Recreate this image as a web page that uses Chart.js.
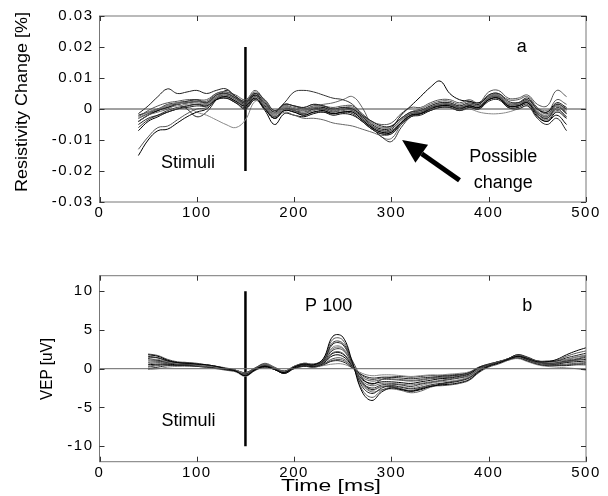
<!DOCTYPE html>
<html>
<head>
<meta charset="utf-8">
<script src="https://cdn.jsdelivr.net/npm/chart.js@4.4.1/dist/chart.umd.min.js"></script>
<style>
body { margin: 0; background: #fff; }
#wrap { position: relative; width: 608px; height: 496px; }
canvas { position: absolute; left: 0; }
#top { top: 0; }
#bot { top: 240px; }
</style>
</head>
<body>
<div id="wrap">
<canvas id="top" width="608" height="240"></canvas>
<canvas id="bot" width="608" height="256"></canvas>
</div>
<script>
// ---- panel a : resistivity change, values in 0.001 % ----
const timeA = [40,50,60,70,80,90,100,110,120,130,140,150,160,170,180,190,200,210,220,230,240,250,260,270,280,290,300,310,320,330,340,350,360,370,380,390,400,410,420,430,440,450,460,470,480];
const tracesA = [
	[-15,-10,-7,-6.5,-4.5,-2.5,-1,0,3,4,2.5,1,3.5,0,-3,-0.5,-1,-2,-1,-0.5,-1.5,-1,-1,-3.5,-6,-7.5,-7.5,-4.5,-2,-1.5,0,1,1,0,1,0.5,3,3.5,1,1,2,-2,-4,-1,-3],
	[-13,-9,-6,-5.5,-3.5,-1.5,0,0.5,3.5,4.5,3,1.5,4,0.5,-2.5,0,-0.5,-1.5,-0.5,0,-1,-0.5,-0.5,-3,-5.5,-7,-7,-4,-1.5,-1,0.5,1.5,1.5,0.5,1.5,1,3.5,4,1.5,1.5,2.5,-1.5,-3.5,-0.5,-2.5],
	[-1.5,1,4,6.5,5,5.5,6,5,6,6.5,4,2.5,5,2,-1,1.5,1,0.5,1.5,1,0,0.5,0,-2,-4,-5.5,-5.5,-3,-1,-0.5,1,2,2,1,2,1.5,4.5,5,2.5,2,3,0,-1.5,1.5,0],
	[-3,-1,0,1,2,1,-1,-2,-3.5,-5,-6,-3.5,2.5,1.5,-1.5,1,0,-0.5,0.5,1,-0.5,0,0.5,-2,-4.5,-6,-6,-3.5,-1,-0.5,1,2,2,1,2,1,4,4.5,2,2,3,-0.5,-2,1,-0.5],
	[-2,-1,0,1.5,2,2.5,3,2,4.5,5,3.5,2,5,3,-0.5,2,5.5,6,5.5,4.5,3.5,3,1.5,-2,-6,-9,-10.5,-6,-2.5,-1.5,0.5,1,1.5,0.5,1,0.5,3,3.5,1,1,2,-1.5,-3,0.5,-1.5],
	[-4,-2,-1,0,1.5,2,2.5,2,4,5,3.5,2,5,1.5,-1.5,1,0.5,0,1,1.5,2,3,4,0.5,-5.5,-9,-9.5,-5,-2,-1,0.5,1.5,1.5,0.5,1.5,1,3.5,4,1.5,1.5,2.5,-1,-2.5,1,-1],
	[-4,-2,-0.5,0.5,1.5,2,2.5,2,4.5,5,3.5,1.5,4.5,1.5,-1.5,1,0,-0.5,0.5,0.5,-0.5,0,0,-2.5,-5,-6.5,-6,-2,1,4,7,9,5,3,2.5,2,4,4.5,2,2,3.5,0,-1,2,0.5],
	[-3,-1.5,0,1,2,2.5,3,3,5,5.5,4,2.5,5.5,2.5,-0.5,1.5,1,0.5,1.5,1,0.5,1,1,-1.5,-4,-5,-4.5,-1.5,0.5,0.5,2,3,3,2,3,2,5.5,6,3.5,3.5,4.5,1.5,1,6,4],
	[-5,-3,-2,-1,0,0.5,1,1,3,3.5,2,0.5,3,0,-3,-0.5,-1,-2,-1,-1,-1.5,-1,-1.5,-4,-6.5,-8,-8,-5,-2.5,-2,-0.5,0.5,0.5,-0.5,0.5,0,2.5,3,0.5,0,1,-3,-5,-3,-7],
	[-2,-1,0,0.5,1,1.5,2,1.5,3.5,4,2.5,1,3,0.5,-2,0.5,0,-0.5,0.5,0.5,-0.5,0,-0.5,-2.5,-4.5,-6,-5.5,-3,-1,-0.5,0.5,1,0.5,-0.5,0,-1,-1.5,-1.5,-1,0,1,0,-0.5,1,0],
	[-6,-3.5,-2,-0.5,0.5,1,1.5,1.5,3.5,4,2.5,1,4,0.5,-2.5,0,-0.5,-1,0,-0.5,-1.5,-1,-1,-3.5,-6,-7.5,-7,-4.5,-2,-1.5,0,1,1,0,1,0.5,4,4.5,1,1,2.5,-1.5,-3,0,-2.5],
	[-3,-1.5,-0.5,0.5,1.5,2,2,1.5,4,4.5,3,1,3.5,0,-3,-1,-2,-3,-3,-3.5,-4.5,-5,-5.5,-6.5,-7.5,-8.5,-8,-5,-2.5,-1.5,0,1,1,0.5,1.5,1,3.5,4,1.5,1.5,2.5,-1,-2,1.5,0],
	[-7,-4,-2.5,-1,0,1,1.5,1,3,3.5,2,0,3,-0.5,-5,-1.5,-2,-2.5,-1.5,-1,-2,-1.5,-2,-4,-6.5,-8,-7.5,-4.5,-2,-1.5,-0.5,0.5,0.5,-0.5,0.5,0,3,3.5,0.5,0.5,1.5,-2.5,-4,-2,-5],
	[-2.5,-0.5,1,2,2.5,3,3,2.5,5,5.5,4.5,3,6,2.5,-1,1.5,1,0,1,1,0,0.5,0.5,-2,-4.5,-6,-5.5,-3,-1,0,1.5,2.5,2.5,1.5,2.5,1.5,4.5,5,3,3,4,0.5,-1,3,1.5],
	[-4,-2,-0.5,1,1.5,0,-2.5,-1,3,6,4,2,4.5,1,-2,0.5,-0.5,-1.5,0,0,-1,0,-0.5,-3,-5.5,-7,-6.5,-3.5,-1.5,-1,0.5,1.5,1.5,0.5,1,0.5,3.5,4,1,1,2,-1,-2.5,1,-1.5]
];

// ---- panel b : VEP, values in uV ----
const timeB = [50,60,70,80,90,100,110,120,130,140,150,160,170,180,190,200,210,220,230,240,250,260,270,280,290,300,310,320,330,340,350,360,370,380,390,400,410,420,430,440,450,460,470,480,490,500];
const tracesB = [
	[1.8,1.6,1.1,0.8,0.7,0.6,0.5,0.3,0,-0.3,-0.9,-0.1,0.3,-0.1,-0.5,0.2,0.6,0.5,1.3,4.2,4.1,0.8,-3.0,-4.1,-3.0,-2.5,-2.7,-2.9,-2.6,-2.3,-2.1,-2,-1.8,-1.4,-0.4,0.3,0.7,1.2,1.6,1.3,0.9,0.9,1.2,1.8,2.3,2.7],
	[1.9,1.7,1.2,0.9,0.8,0.7,0.5,0.3,0.1,-0.2,-0.8,0,0.5,0.1,-0.4,0.3,0.7,0.6,1.2,3.8,3.7,0.7,-2.7,-3.7,-2.8,-2.4,-2.6,-2.8,-2.5,-2.2,-2.2,-2.1,-1.9,-1.5,-0.5,0.2,0.6,1.1,1.7,1.4,1,1,1.1,1.6,2,2.3],
	[1.5,1.4,1,0.8,0.7,0.6,0.5,0.3,0,-0.3,-0.7,0,0.4,0,-0.5,0.2,0.5,0.5,1.0,3.2,3.1,0.6,-2.3,-3.2,-2.5,-2.2,-2.4,-2.6,-2.4,-2.1,-1.9,-1.8,-1.6,-1.2,-0.3,0.4,0.8,1.3,1.8,1.4,1,0.9,1,1.4,1.7,2],
	[1.2,1.2,0.9,0.7,0.7,0.5,0.4,0.2,0,-0.2,-0.6,0,0.5,0.1,-0.4,0.3,0.6,0.5,1.0,2.8,2.7,0.5,-2.0,-2.8,-2.3,-2.2,-2.3,-2.5,-2.2,-1.9,-1.7,-1.6,-1.4,-1,-0.2,0.4,0.8,1.3,1.7,1.3,0.9,0.8,0.9,1.2,1.5,1.8],
	[1,1,0.8,0.6,0.6,0.5,0.4,0.2,0,-0.2,-0.5,0.1,0.6,0.1,-0.3,0.3,0.6,0.4,0.9,2.4,2.4,0.5,-1.8,-2.5,-2.1,-2,-2.1,-2.3,-2,-1.8,-1.6,-1.4,-1.2,-0.9,-0.1,0.5,0.8,1.2,1.6,1.3,0.9,0.7,0.8,1,1.2,1.5],
	[0.8,0.9,0.8,0.6,0.6,0.4,0.3,0.2,0,-0.3,-0.7,0,0.4,0,-0.5,0.2,0.5,0.4,0.8,2.1,2.0,0.4,-1.6,-2.2,-1.9,-1.9,-2,-2.1,-1.9,-1.7,-1.5,-1.3,-1.1,-0.8,0,0.5,0.9,1.3,1.7,1.3,0.8,0.6,0.7,0.9,1.1,1.3],
	[0.5,0.6,0.6,0.5,0.5,0.4,0.3,0.1,-0.1,-0.3,-0.8,-0.1,0.3,-0.1,-0.6,0.1,0.4,0.3,0.7,1.7,1.6,0.3,-1.4,-1.9,-1.7,-1.7,-1.8,-1.9,-1.7,-1.5,-1.3,-1.2,-1,-0.7,0.1,0.5,0.9,1.2,1.6,1.2,0.8,0.6,0.6,0.8,0.9,1],
	[0.2,0.4,0.5,0.5,0.5,0.4,0.3,0.1,-0.1,-0.3,-0.8,-0.1,0.3,0,-0.5,0.1,0.4,0.3,0.6,1.3,1.3,0.2,-1.1,-1.6,-1.4,-1.4,-1.5,-1.6,-1.5,-1.3,-1.2,-1.1,-0.9,-0.6,0.1,0.5,0.9,1.2,1.5,1.1,0.7,0.5,0.5,0.6,0.7,0.8],
	[0,0.2,0.4,0.4,0.4,0.3,0.2,0.1,-0.1,-0.3,-0.9,-0.2,0.2,-0.1,-0.6,0,0.3,0.2,0.5,1.0,0.9,0.1,-0.8,-1.2,-1.1,-1.1,-1.2,-1.3,-1.2,-1.1,-1,-0.9,-0.8,-0.5,0.2,0.6,0.9,1.2,1.4,1,0.6,0.4,0.4,0.4,0.5,0.5],
	[-0.1,0,0.2,0.3,0.3,0.3,0.2,0.1,-0.1,-0.4,-1,-0.2,0.2,-0.1,-0.6,0,0.3,0.2,0.4,0.6,0.6,0.1,-0.6,-0.9,-0.8,-0.8,-0.9,-1,-0.9,-0.8,-0.8,-0.7,-0.6,-0.4,0.2,0.6,0.9,1.1,1.3,0.9,0.5,0.3,0.2,0.1,0,-0.2],
	[1.6,1.4,1,0.8,0.8,0.6,0.4,0.2,0,-0.3,-0.9,-0.1,0.5,0,-0.5,0.2,0.6,0.5,1.1,3.4,3.3,1.0,-1.2,-2.0,-1.4,-1.1,-1,-1.1,-1,-0.9,-0.9,-0.8,-0.7,-0.5,0.1,0.5,0.9,1.3,1.8,1.5,1,0.9,1,1.2,1.5,1.7],
	[0.6,0.8,0.7,0.6,0.6,0.5,0.4,0.2,0,-0.2,-0.5,0.1,0.7,0.2,-0.3,0.3,0.7,0.6,1.0,2.6,2.6,0.6,-2.0,-3.0,-2.7,-2.6,-2.8,-3.1,-2.9,-2.4,-2.1,-1.8,-1.5,-1.1,-0.3,0.4,0.8,1.2,1.6,1.2,0.8,0.7,0.8,1.1,1.3,1.6],
	[1.3,1.1,0.9,0.7,0.7,0.5,0.4,0.2,0,-0.2,-0.6,0,0.4,0,-0.4,0.2,0.5,0.4,0.8,2.0,1.9,0.3,-1.8,-2.7,-2.3,-2.3,-2.6,-2.9,-2.7,-2.3,-2,-1.7,-1.5,-1.1,-0.2,0.4,0.8,1.2,1.6,1.2,0.8,0.6,0.7,0.9,1.1,1.2],
	[0.3,0.5,0.5,0.4,0.4,0.3,0.2,0,-0.2,-0.4,-0.9,-0.2,0.3,-0.1,-0.5,0.1,0.4,0.3,0.6,1.1,1.1,0.2,-0.9,-1.4,-1.2,-1.3,-1.4,-1.5,-1.4,-1.2,-1.1,-1,-0.8,-0.6,0.1,0.5,0.8,1.1,1.4,1,0.6,0.4,0.4,0.5,0.6,0.7]
];

// stimulus marker and axis ranges
const stimTime = 150;
const stimA = [20, -20];
const stimB = [10, -10];
const yTicksA = [-30, 30, 10];
const yTicksB = [-12, 12, 5];

const FONT = '"Liberation Sans", Arial, sans-serif';
const greys = ['#000', '#555', '#222', '#888', '#333', '#666'];

function traceSets(times, traces) {
	return traces.map((tr, k) => ({
		data: times.map((t, i) => ({ x: t, y: tr[i] })),
		borderColor: greys[k % greys.length],
		borderWidth: 1,
		tension: 0.4
	}));
}

function lineSet(xs, ys, color, w) {
	return { data: xs.map((x, i) => ({ x: x, y: ys[i] })), borderColor: color, borderWidth: w, tension: 0 };
}

function text(ctx, s, x, y, size, opt) {
	opt = opt || {};
	ctx.save();
	ctx.font = size + 'px ' + FONT;
	ctx.fillStyle = '#000';
	ctx.textAlign = 'center';
	ctx.textBaseline = 'middle';
	ctx.translate(x, y);
	if (opt.rot) ctx.rotate(-Math.PI / 2);
	if (opt.w) ctx.scale(opt.w / ctx.measureText(s).width, 1);
	ctx.fillText(s, 0, 0);
	ctx.restore();
}

// box + inward ticks like the original figure, plus the notes
function decor(extra) {
	return {
		id: 'decor',
		beforeDraw(chart) { chart.ctx.letterSpacing = '1.5px'; },
		afterDraw(chart) {
			const ctx = chart.ctx;
			const a = chart.chartArea;
			const x = chart.scales.x, y = chart.scales.y;
			ctx.save();
			ctx.letterSpacing = '0px';
			ctx.strokeStyle = '#777';
			ctx.lineWidth = 1;
			ctx.strokeRect(a.left, a.top, a.right - a.left, a.bottom - a.top);
			ctx.strokeStyle = '#333';
			ctx.beginPath();
			y.ticks.forEach(t => {
				const p = Math.round(y.getPixelForValue(t.value)) + 0.5;
				ctx.moveTo(a.left, p); ctx.lineTo(a.left + 5, p);
				ctx.moveTo(a.right, p); ctx.lineTo(a.right - 5, p);
			});
			x.ticks.forEach(t => {
				const p = Math.round(x.getPixelForValue(t.value)) + 0.5;
				ctx.moveTo(p, a.bottom); ctx.lineTo(p, a.bottom - 5);
				ctx.moveTo(p, a.top); ctx.lineTo(p, a.top + 5);
			});
			ctx.stroke();
			extra(ctx, x, y);
			ctx.restore();
		}
	};
}

function baseOptions(yr, fmt, padTop, xh) {
	return {
		responsive: false,
		animation: false,
		events: [],
		layout: { padding: { left: 0, right: 22, top: padTop, bottom: 0 } },
		elements: { point: { radius: 0 } },
		plugins: { legend: { display: false }, tooltip: { enabled: false } },
		scales: {
			x: {
				type: 'linear', min: 0, max: 500,
				grid: { display: false, drawTicks: false }, border: { display: false },
				ticks: { stepSize: 100, autoSkip: false, includeBounds: false, color: '#000', font: { family: FONT, size: 15 }, padding: 2, maxRotation: 0 },
				afterFit(s) { s.height = xh; }
			},
			y: {
				type: 'linear', min: yr[0], max: yr[1],
				grid: { display: false, drawTicks: false }, border: { display: false },
				ticks: { stepSize: yr[2], autoSkip: false, includeBounds: false, color: '#000', font: { family: FONT, size: 15 }, padding: 6, callback: fmt },
				afterFit(s) { s.width = 99.5; }
			}
		}
	};
}

const zeroX = [0, 500], zeroY = [0, 0];

new Chart(document.getElementById('top'), {
	type: 'line',
	data: {
		datasets: [
			lineSet(zeroX, zeroY, '#444', 1),
			...traceSets(timeA, tracesA),
			lineSet([stimTime, stimTime], stimA, '#000', 2.5)
		]
	},
	options: baseOptions(yTicksA, v => v === 0 ? '0' : (v / 1000).toFixed(2), 16, 38),
	plugins: [decor((ctx, x, y) => {
		text(ctx, 'Resistivity Change [%]', 22, 102, 17, { rot: true, w: 180 });
		text(ctx, 'Stimuli', x.getPixelForValue(91), y.getPixelForValue(-17.4), 18);
		text(ctx, 'a', x.getPixelForValue(434), y.getPixelForValue(20), 18);
		text(ctx, 'Possible', x.getPixelForValue(415), y.getPixelForValue(-15.5), 18);
		text(ctx, 'change', x.getPixelForValue(415), y.getPixelForValue(-24), 18);
		// arrow towards the dip
		const tx = x.getPixelForValue(311), ty = y.getPixelForValue(-10);
		const sx = x.getPixelForValue(370), sy = y.getPixelForValue(-23);
		const ang = Math.atan2(ty - sy, tx - sx);
		const hl = 24, hw = 11;
		const bx = tx - hl * Math.cos(ang), by = ty - hl * Math.sin(ang);
		ctx.strokeStyle = '#000';
		ctx.lineWidth = 5;
		ctx.beginPath(); ctx.moveTo(sx, sy); ctx.lineTo(bx, by); ctx.stroke();
		ctx.fillStyle = '#000';
		ctx.beginPath();
		ctx.moveTo(tx, ty);
		ctx.lineTo(bx + hw * Math.sin(ang), by - hw * Math.cos(ang));
		ctx.lineTo(bx - hw * Math.sin(ang), by + hw * Math.cos(ang));
		ctx.closePath(); ctx.fill();
	})]
});

new Chart(document.getElementById('bot'), {
	type: 'line',
	data: {
		datasets: [
			lineSet(zeroX, zeroY, '#666', 1),
			...traceSets(timeB, tracesB),
			lineSet([stimTime, stimTime], stimB, '#000', 2.5)
		]
	},
	options: baseOptions(yTicksB, v => String(v), 35.7, 34.3),
	plugins: [decor((ctx, x, y) => {
		text(ctx, 'VEP [uV]', 47.6, 129, 17, { rot: true, w: 62 });
		text(ctx, 'Time [ms]', 331, 247, 16, { w: 100 });
		text(ctx, 'Stimuli', x.getPixelForValue(91.4), y.getPixelForValue(-6.8), 18);
		text(ctx, 'P 100', x.getPixelForValue(235.5), y.getPixelForValue(8.1), 18);
		text(ctx, 'b', x.getPixelForValue(439.5), y.getPixelForValue(8.1), 18);
	})]
});
</script>
</body>
</html>
